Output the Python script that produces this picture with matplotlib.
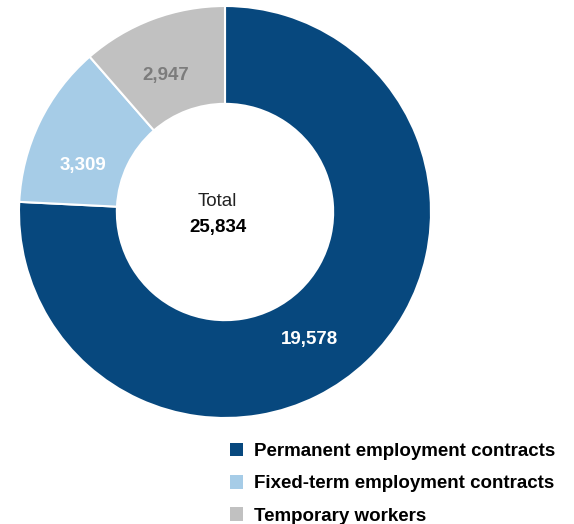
import matplotlib
matplotlib.use('Agg')
import numpy as np
import matplotlib.pyplot as plt
from matplotlib.patches import Patch

categories = ['Permanent employment contracts',
              'Fixed-term employment contracts',
              'Temporary workers']
values = [19578, 3309, 2947]
colors = ['#07487e', '#a6cce7', '#c1c1c1']
label_colors = ['white', 'white', '#7c7c7c']
# label placement as (angle in degrees, radius)
label_pos = [(-56.4, 0.745), (161.7, 0.726), (113.5, 0.72)]

plt.rcParams['font.family'] = ['Liberation Sans', 'DejaVu Sans']

W, H = 574, 524
fig = plt.figure(figsize=(W / 100, H / 100), dpi=100)

cx, cy, R = 225, 212, 206
ax = fig.add_axes([(cx - R) / W, (H - cy - R) / H, 2 * R / W, 2 * R / H])

ax.pie(values, colors=colors, startangle=90, counterclock=False, radius=1.0,
       wedgeprops=dict(width=0.475, edgecolor='white', linewidth=1.5))
ax.set_xlim(-1, 1)
ax.set_ylim(-1, 1)
ax.set_aspect('equal')
ax.axis('off')

for v, c, (ang, r) in zip(values, label_colors, label_pos):
    a = np.deg2rad(ang)
    ax.text(r * np.cos(a), r * np.sin(a), f'{v:,}', color=c, fontsize=13.5,
            fontweight='bold', ha='center', va='center')

total = sum(values)
ax.text(-0.035, 0.05, 'Total', fontsize=13.5, ha='center', va='center', color='#222222')
ax.text(-0.035, -0.075, f'{total:,}', fontsize=13.5, fontweight='bold',
        ha='center', va='center', color='black')

handles = [Patch(facecolor=c, edgecolor='none') for c in colors]
fig.legend(handles, categories, loc='upper left',
           bbox_to_anchor=(222 / W, 1 - 435 / H), frameon=False,
           prop=dict(weight='bold', size=13.5),
           handlelength=0.7, handleheight=0.75, handletextpad=0.6,
           labelspacing=0.8, borderaxespad=0)

fig.savefig('out.png', dpi=100)
